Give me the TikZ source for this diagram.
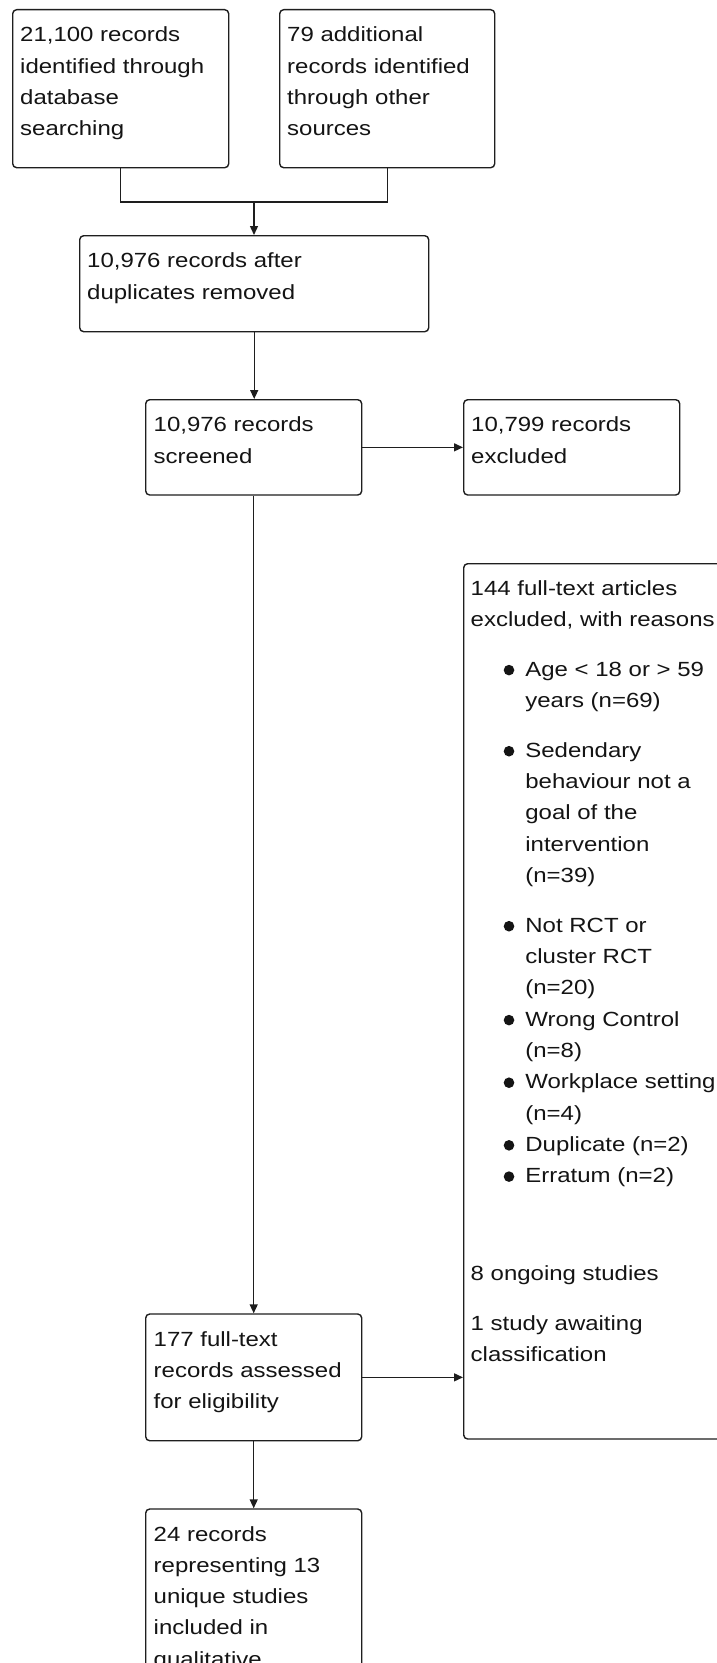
\documentclass[tikz,border=0pt]{standalone}
\usepackage{fontspec}
\setmainfont{Liberation Sans}[FakeStretch=1.17]
\usetikzlibrary{arrows.meta}
\definecolor{ln}{RGB}{30,30,30}
\definecolor{tx}{RGB}{20,20,20}
\newcommand\bxc[5][32]{\parbox[b][#3bp][t]{#2bp}{\leftskip=#4bp\relax\rule{0pt}{#1bp}#5\par}}
\newcommand\bul{\hspace*{33bp}\makebox[21.7bp][l]{\tikz[baseline=0pt]\fill[tx] (5.3bp,6bp) circle[radius=5.3bp];}}
\newcommand\ind{\hspace*{54.7bp}}
\begin{document}
\begin{tikzpicture}[x=1bp,y=-1bp,
  box/.style={draw=ln, line width=1.4bp, rounded corners=4bp, inner sep=0pt, anchor=north west,
    font=\fontsize{20.5bp}{31.3bp}\selectfont, text=tx},
  con/.style={draw=ln, line width=1.4bp},
  arr/.style={con, -{Triangle[length=9bp,width=8bp]}}]
\clip (0,0) rectangle (717,1663);
\fill[white] (0,0) rectangle (717,1663);
\node[box] (a) at (12,9) {\bxc{216}{158}{7.5}{21,100 records\\identified through\\database\\searching}};
\node[box] (b) at (279,9) {\bxc{215}{158}{7.5}{79 additional\\records identified\\through other\\sources}};
\node[box] (c) at (79,235) {\bxc{349}{96}{7.5}{10,976 records after\\duplicates removed}};
\node[box] (d) at (145,399) {\bxc{216}{95.3}{8}{10,976 records\\screened}};
\node[box] (e) at (463,399) {\bxc{216}{95.3}{7.5}{10,799 records\\excluded}};
\node[box] (f) at (463,563) {\bxc[31.3]{290}{875.3}{7}{144 full-text articles\\
excluded, with reasons\\[18.5bp]
\bul Age < 18 or > 59\\
\ind years (n=69)\\[18.5bp]
\bul Sedendary\\
\ind behaviour not a\\
\ind goal of the\\
\ind intervention\\
\ind (n=39)\\[18.5bp]
\bul Not RCT or\\
\ind cluster RCT\\
\ind (n=20)\\
\bul Wrong Control\\
\ind (n=8)\\
\bul Workplace setting\\
\ind (n=4)\\
\bul Duplicate (n=2)\\
\bul Erratum (n=2)\\[66.8bp]
8 ongoing studies\\[18bp]
1 study awaiting\\
classification}};
\node[box] (g) at (145,1313.3) {\bxc{216}{126.7}{8}{177 full-text\\records assessed\\for eligibility}};
\node[box] (h) at (145,1508.3) {\bxc{216}{220}{8}{24 records\\representing 13\\unique studies\\included in\\qualitative}};
\coordinate (j) at (254,202);
\draw[con] (a.south) |- (j) -| (b.south);
\draw[arr] (j) -- (j |- c.north);
\draw[arr] (c.south) -- (c.south |- d.north);
\draw[arr] (d.east) -- (d.east -| e.west);
\draw[arr] (d.south) -- (g.north);
\draw[arr] (g.east) -- (g.east -| f.west);
\draw[arr] (g.south) -- (h.north);
\end{tikzpicture}
\end{document}
